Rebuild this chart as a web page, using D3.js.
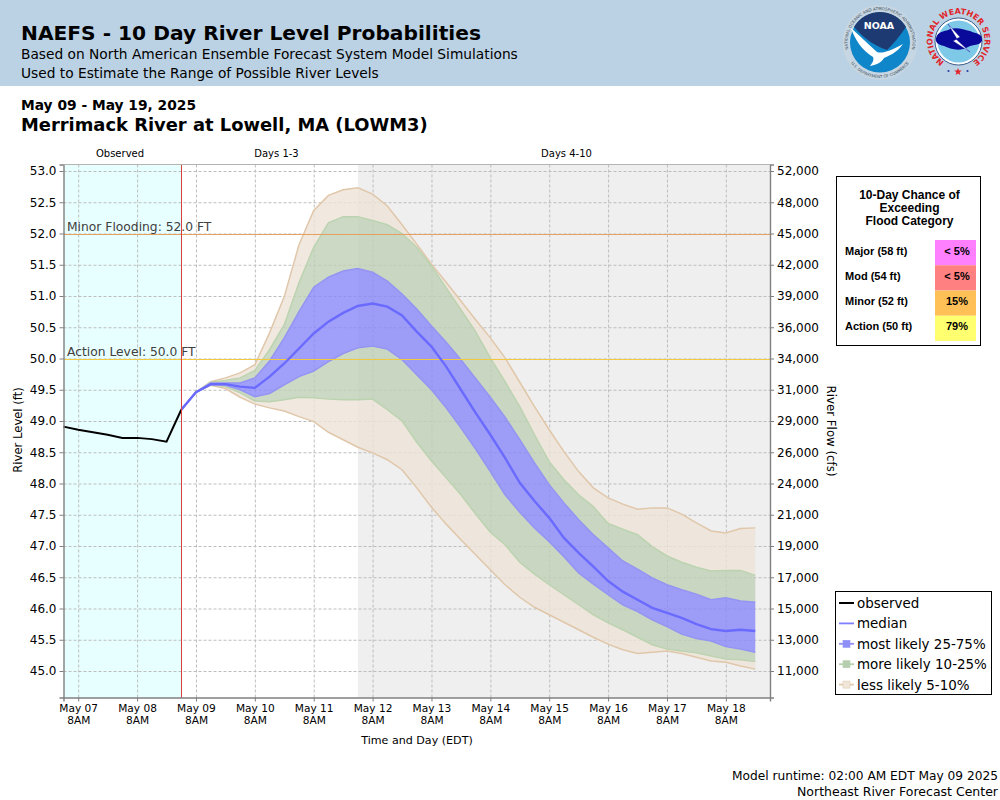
<!DOCTYPE html>
<html><head><meta charset="utf-8">
<script src="https://cdnjs.cloudflare.com/ajax/libs/d3/7.8.5/d3.min.js"></script>
<style>html,body{margin:0;padding:0;background:#fff}svg{display:block}text{font-family:"DejaVu Sans",sans-serif}.lib text{font-family:"Liberation Sans",sans-serif;font-weight:bold}</style>
</head><body><svg id="c" width="1000" height="800"></svg>
<script>
const observed=[48.91,48.86,48.82,48.78,48.73,48.73,48.71,48.67,49.18];
const p95=[49.18,49.46,49.63,49.69,49.77,49.90,50.41,50.99,51.82,52.37,52.61,52.70,52.73,52.63,52.44,52.14,51.83,51.51,51.22,50.92,50.62,50.33,50.01,49.62,49.23,48.86,48.51,48.19,47.93,47.77,47.67,47.59,47.61,47.61,47.51,47.37,47.24,47.21,47.28,47.29];
const p90=[49.18,49.46,49.62,49.65,49.69,49.81,50.14,50.54,51.21,51.78,52.17,52.27,52.27,52.21,52.14,52.00,51.78,51.48,51.13,50.78,50.43,50.01,49.63,49.23,48.78,48.35,48.06,47.82,47.63,47.36,47.27,47.18,46.99,46.84,46.74,46.66,46.60,46.61,46.61,46.53];
const p75=[49.18,49.46,49.61,49.61,49.61,49.69,49.96,50.33,50.75,51.14,51.30,51.40,51.44,51.38,51.24,51.03,50.79,50.52,50.26,49.98,49.68,49.38,49.06,48.70,48.33,47.98,47.69,47.42,47.18,46.97,46.76,46.63,46.49,46.38,46.30,46.23,46.14,46.17,46.12,46.10];
const median=[49.18,49.46,49.59,49.59,49.55,49.53,49.71,49.92,50.16,50.40,50.59,50.73,50.84,50.88,50.83,50.69,50.43,50.19,49.87,49.50,49.13,48.78,48.41,48.01,47.72,47.45,47.13,46.89,46.67,46.44,46.27,46.14,46.01,45.93,45.85,45.75,45.67,45.64,45.66,45.64];
const p25=[49.18,49.46,49.58,49.57,49.50,49.39,49.44,49.58,49.71,49.80,49.95,50.08,50.17,50.20,50.15,49.98,49.74,49.50,49.21,48.89,48.55,48.19,47.82,47.54,47.29,47.07,46.83,46.57,46.39,46.22,46.06,45.95,45.82,45.71,45.59,45.52,45.48,45.39,45.35,45.30];
const p10=[49.18,49.46,49.58,49.55,49.45,49.32,49.31,49.34,49.38,49.37,49.35,49.34,49.34,49.35,49.18,49.00,48.66,48.36,48.09,47.82,47.51,47.22,47.02,46.74,46.55,46.38,46.22,46.06,45.90,45.77,45.66,45.54,45.42,45.35,45.32,45.29,45.24,45.19,45.18,45.15];
const p5=[49.18,49.46,49.57,49.52,49.38,49.27,49.21,49.16,49.07,48.99,48.82,48.70,48.58,48.49,48.38,48.22,47.93,47.62,47.35,47.10,46.86,46.62,46.38,46.18,46.02,45.90,45.78,45.66,45.54,45.43,45.34,45.28,45.30,45.32,45.28,45.22,45.16,45.14,45.08,45.03];
const stageTicks=[53,52.5,52,51.5,51,50.5,50,49.5,49,48.5,48,47.5,47,46.5,46,45.5,45];
const flowLabels=["52,000","48,000","45,000","42,000","39,000","36,000","34,000","31,000","29,000","26,000","24,000","21,000","19,000","17,000","15,000","13,000","11,000"];
const dayTicks=["May 07","May 08","May 09","May 10","May 11","May 12","May 13","May 14","May 15","May 16","May 17","May 18"];
const chanceLabels=["Major (58 ft)","Mod (54 ft)","Minor (52 ft)","Action (50 ft)"];
const chanceValues=["< 5%","< 5%","15%","79%"];
const chanceColors=["#ff80ff","#ff8080","#ffc058","#ffff70"];
const legendLabels=["observed","median","most likely 25-75%","more likely 10-25%","less likely 5-10%"];
const legendLines=["#000000","#8080ff","#8f8ff5","#b5d3ab","#e2cbb0"];
const legendBoxes=[null,null,"#8f8ff8","#b7cdb0","#f0e6da"];

const svg=d3.select("#c");
const t0=Date.UTC(2025,4,7,2), tStep=6*3600e3;
const obsStart=t0, fcstStart=Date.UTC(2025,4,9,2);
const x=d3.scaleUtc().domain([t0,Date.UTC(2025,4,19,2)]).range([63.5,770]);
const y=d3.scaleLinear().domain([44.576,53.104]).range([697.5,164.5]);
const tObs=i=>new Date(obsStart+i*tStep), tF=i=>new Date(fcstStart+i*tStep);
const tickDates=dayTicks.map((d,i)=>new Date(Date.UTC(2025,4,7+i,8)));

// header
svg.append("rect").attr("width",1000).attr("height",86).attr("fill","#bbd2e4");
const hdr=[["NAEFS - 10 Day River Level Probabilities",40,20.2,"bold"],["Based on North American Ensemble Forecast System Model Simulations",59,13.76,"normal"],["Used to Estimate the Range of Possible River Levels",78,13.76,"normal"],["May 09 - May 19, 2025",110,13.8,"bold"],["Merrimack River at Lowell, MA (LOWM3)",131,17.9,"bold"]];
svg.selectAll(".h").data(hdr).join("text").attr("x",21).attr("y",d=>d[1]).attr("font-size",d=>d[2]).attr("font-weight",d=>d[3]).attr("fill","#000").text(d=>d[0]);

// logos
const defs=svg.append("defs");
function arcDef(id,cx,cy,r,a0,a1,sweep){
  const p=a=>[cx+r*Math.cos(a*Math.PI/180),cy+r*Math.sin(a*Math.PI/180)];
  const [ax,ay]=p(a0),[bx,by]=p(a1);
  defs.append("path").attr("id",id).attr("d",`M${ax},${ay}A${r},${r} 0 ${Math.abs(a1-a0)>180?1:0} ${sweep} ${bx},${by}`);
}
const noaa=svg.append("g");
noaa.append("circle").attr("cx",880).attr("cy",42.5).attr("r",37.5).attr("fill","#c6d6e2");
noaa.append("circle").attr("cx",880).attr("cy",42.5).attr("r",30).attr("fill","#0f86c9");
noaa.append("path").attr("d","M854,27A30,30 0 0 1 906,27C900,36 893,44 887,50C872,45 862,36 854,27Z").attr("fill","#1d3a72");
noaa.append("path").attr("d","M851,28C860,36 868,44 877,52C882,54 890,51 903,44C897,53 888,56 884,58C881,63 876,65 870,66C873,62 874,60 873,57C862,50 855,40 851,28Z").attr("fill","#fff");
noaa.append("text").attr("x",879).attr("y",28.5).attr("text-anchor","middle").attr("font-size",9.5).attr("font-weight","bold").attr("fill","#fff").text("NOAA");
arcDef("na1",880,42.5,32.5,-215,35,1);arcDef("na2",880,42.5,35.5,165,15,0);
noaa.append("text").attr("font-size",4).attr("fill","#44525e").append("textPath").attr("href","#na1").attr("startOffset","50%").attr("text-anchor","middle").text("NATIONAL OCEANIC AND ATMOSPHERIC ADMINISTRATION");
noaa.append("text").attr("font-size",4).attr("fill","#44525e").append("textPath").attr("href","#na2").attr("startOffset","50%").attr("text-anchor","middle").text("U.S. DEPARTMENT OF COMMERCE");
const nws=svg.append("g");
nws.append("circle").attr("cx",958.5).attr("cy",41.5).attr("r",23.5).attr("fill","#fff").attr("stroke","#14376e").attr("stroke-width",.8);
nws.append("circle").attr("cx",958.5).attr("cy",41.5).attr("r",21).attr("fill","#7ec8e8");
nws.append("path").attr("d","M936,38C938,30 946,32 950,29C958,27 964,30 970,31C976,34 983,33 982,41C979,46 974,44 968,47C960,52 950,49 944,46C939,45 935,43 936,38Z").attr("fill","#0a0a9a");
nws.append("path").attr("d","M948,24L960,37L956,39L970,52L953,41L957,39Z").attr("fill","#fff").attr("stroke","#0a0a9a").attr("stroke-width",.4);
arcDef("nw1",958.5,40,26,115,425,1);
nws.append("text").attr("font-size",8).attr("font-weight","bold").attr("fill","#e0242a").append("textPath").attr("href","#nw1").attr("startOffset","50%").attr("text-anchor","middle").text("NATIONAL WEATHER SERVICE");
nws.append("path").attr("d","M958,68l1,2.6h2.8l-2.2,1.7.8,2.7-2.4-1.6-2.4,1.6.8-2.7-2.2-1.7h2.8z").attr("fill","#e0242a");
nws.selectAll(".dot").data([948.5,967.5]).join("circle").attr("cx",d=>d).attr("cy",71).attr("r",1.1).attr("fill","#2a3fa8");

// period bands
const plot=svg.append("g");
plot.append("rect").attr("x",x(t0)).attr("y",y.range()[1]).attr("width",x(fcstStart)-x(t0)).attr("height",y.range()[0]-y.range()[1]).attr("fill","#e8ffff");
const d4=new Date(Date.UTC(2025,4,12,2));
plot.append("rect").attr("x",x(d4)).attr("y",y.range()[1]).attr("width",x.range()[1]-x(d4)).attr("height",y.range()[0]-y.range()[1]).attr("fill","#efefef");

// grid
const gridY=plot.append("g").attr("transform",`translate(${x.range()[0]},0)`).call(d3.axisRight(y).tickValues(stageTicks).tickSize(x.range()[1]-x.range()[0]).tickFormat(""));
const gridX=plot.append("g").attr("transform",`translate(0,${y.range()[1]})`).call(d3.axisBottom(x).tickValues(tickDates).tickSize(y.range()[0]-y.range()[1]).tickFormat(""));
[gridY,gridX].forEach(g=>{g.select(".domain").remove();g.selectAll("line").attr("stroke","#bdbdbd").attr("stroke-dasharray","3,2");});

// bands
const band=(lo,hi)=>d3.area().x((d,i)=>x(tF(i))).y0((d,i)=>y(lo[i])).y1((d,i)=>y(hi[i]))(lo);
const line=(v,tf)=>d3.line().x((d,i)=>x(tf(i))).y(d=>y(d))(v);
const bands=[[p5,p10,"rgb(238,228,215)"],[p90,p95,"rgb(238,228,215)"],[p10,p25,"rgb(190,208,183)"],[p75,p90,"rgb(190,208,183)"],[p25,p75,"rgb(136,136,249)"]];
plot.selectAll(".band").data(bands).join("path").attr("d",d=>band(d[0],d[1])).attr("fill",d=>d[2]).attr("fill-opacity",.8);
const edges=[[p95,"#e0c7aa"],[p5,"#e0c7aa"],[p90,"#bcd3b0"],[p10,"#bcd3b0"],[p75,"#9494f2"],[p25,"#9494f2"]];
plot.selectAll(".edge").data(edges).join("path").attr("d",d=>line(d[0],tF)).attr("fill","none").attr("stroke",d=>d[1]).attr("stroke-width",1.5);
// levels
const levels=[[52,"Minor Flooding: 52.0 FT","#e8a060"],[50,"Action Level: 50.0 FT","#f3c93f"]];
plot.selectAll(".lv").data(levels).join("line").attr("x1",x.range()[0]).attr("x2",x.range()[1]).attr("y1",d=>y(d[0])+.5).attr("y2",d=>y(d[0])+.5).attr("stroke",d=>d[2]).attr("stroke-width",1).attr("shape-rendering","crispEdges");
plot.selectAll(".lt").data(levels).join("text").attr("x",67).attr("y",d=>y(d[0])-2.5).attr("font-size",12.3).attr("fill","#404040").text(d=>d[1]);
plot.append("path").attr("d",line(median,tF)).attr("fill","none").attr("stroke","#6a6aff").attr("stroke-width",2.4);
plot.append("path").attr("d",line(observed,tObs)).attr("fill","none").attr("stroke","#000").attr("stroke-width",2);
plot.append("line").attr("x1",x(fcstStart)).attr("x2",x(fcstStart)).attr("y1",y.range()[0]).attr("y2",y.range()[1]).attr("stroke","#d8403a").attr("stroke-width",1).attr("shape-rendering","crispEdges");

// axes
const left=svg.append("g").attr("transform",`translate(${x.range()[0]},0)`).call(d3.axisLeft(y).tickValues(stageTicks).tickSize(4).tickPadding(3).tickFormat(d3.format(".1f")));
const right=svg.append("g").attr("transform",`translate(${x.range()[1]},0)`).call(d3.axisRight(y).tickValues(stageTicks).tickSize(4).tickPadding(3).tickFormat((d,i)=>flowLabels[i]));
const bottom=svg.append("g").attr("transform",`translate(0,${y.range()[0]})`).call(d3.axisBottom(x).tickValues(tickDates).tickSize(4).tickPadding(3).tickFormat((d,i)=>dayTicks[i]));
[left,right,bottom].forEach(g=>{g.attr("font-family",null).attr("font-size",null);g.selectAll("line").attr("stroke","#808080");g.select(".domain").attr("stroke","#808080").attr("stroke-width",1.4);});
left.selectAll("text").attr("font-size",12).attr("fill","#000");
right.selectAll("text").attr("font-size",12).attr("fill","#000");
bottom.selectAll("text").attr("font-size",10.6).attr("fill","#000").each(function(){
  const s=d3.select(this),t=s.text();s.text("");
  s.append("tspan").attr("x",0).attr("dy","0.71em").text(t);
  s.append("tspan").attr("x",0).attr("dy","1.15em").text("8AM");
}).attr("dy",null);
svg.append("line").attr("x1",x.range()[0]).attr("x2",x.range()[1]).attr("y1",y.range()[1]).attr("y2",y.range()[1]).attr("stroke","#b4b4b4");

const periods=[["Observed",120],["Days 1-3",276.5],["Days 4-10",566.5]];
svg.selectAll(".p").data(periods).join("text").attr("x",d=>d[1]).attr("y",157).attr("text-anchor","middle").attr("font-size",10).attr("fill","#000").text(d=>d[0]);
svg.append("text").attr("x",417).attr("y",744).attr("text-anchor","middle").attr("font-size",11.1).text("Time and Day (EDT)");
svg.append("text").attr("transform","translate(22,430) rotate(-90)").attr("text-anchor","middle").attr("font-size",11.6).text("River Level (ft)");
svg.append("text").attr("transform","translate(827,431) rotate(90)").attr("text-anchor","middle").attr("font-size",11.8).text("River Flow (cfs)");

// chance table
const tb=svg.append("g").attr("class","lib");
tb.append("rect").attr("x",836.5).attr("y",176.5).attr("width",144).attr("height",169).attr("fill","#fff").attr("stroke","#000");
tb.selectAll(".tt").data(["10-Day Chance of","Exceeding","Flood Category"]).join("text").attr("x",909.5).attr("y",(d,i)=>199+i*13).attr("text-anchor","middle").attr("font-size",12).text(d=>d);
const rowY=d3.scaleBand().domain(d3.range(4)).range([240,341]);
tb.selectAll(".sw").data(chanceColors).join("rect").attr("x",935).attr("width",41).attr("y",(d,i)=>rowY(i)).attr("height",rowY.bandwidth()).attr("fill",d=>d);
tb.selectAll(".cl").data(chanceLabels).join("text").attr("x",845).attr("y",(d,i)=>255+i*25).attr("font-size",11).text(d=>d);
tb.selectAll(".cv").data(chanceValues).join("text").attr("x",957).attr("y",(d,i)=>255+i*25).attr("text-anchor","middle").attr("font-size",11).text(d=>d);

// legend
const lg=svg.append("g");
lg.append("rect").attr("x",835.5).attr("y",591.5).attr("width",156).attr("height",103).attr("fill","#fff").attr("stroke","#000");
const legY=i=>603+i*20.4;
lg.selectAll(".ll").data(legendLines).join("line").attr("x1",839).attr("x2",854).attr("y1",(d,i)=>legY(i)).attr("y2",(d,i)=>legY(i)).attr("stroke",d=>d).attr("stroke-width",(d,i)=>i==0?2:1.8);
legendBoxes.forEach((c,i)=>{if(c)lg.append("rect").attr("x",843).attr("y",legY(i)-3.5).attr("width",7).attr("height",7).attr("fill",c).attr("stroke",legendLines[i]).attr("stroke-width",.6);});
lg.selectAll(".lx").data(legendLabels).join("text").attr("x",857).attr("y",(d,i)=>legY(i)+5).attr("font-size",13.45).attr("fill","#000").text(d=>d);

// footer
svg.selectAll(".f").data([["Model runtime: 02:00 AM EDT May 09 2025",780,12.2],["Northeast River Forecast Center",796,12.5]]).join("text").attr("x",998).attr("y",d=>d[1]).attr("text-anchor","end").attr("font-size",d=>d[2]).attr("fill","#000").text(d=>d[0]);
</script></body></html>
